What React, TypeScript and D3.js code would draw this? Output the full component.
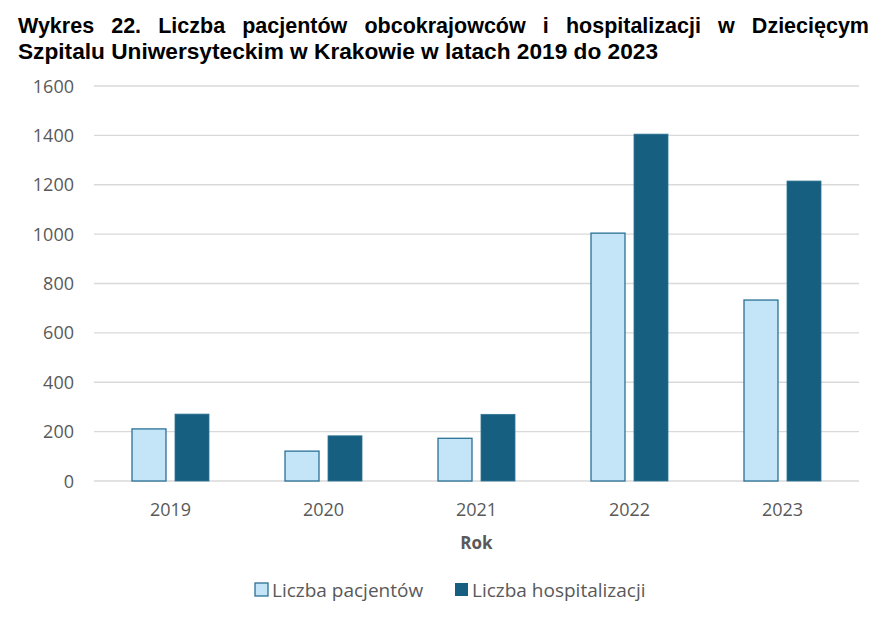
import React, { useEffect, useRef } from "react";
import * as d3 from "d3";

const years = ["2019", "2020", "2021", "2022", "2023"];
const patients = [211, 121, 173, 1004, 733];
const hospitalizations = [271, 183, 270, 1405, 1215];
const yTicks = [0, 200, 400, 600, 800, 1000, 1200, 1400, 1600];
const seriesNames = ["Liczba pacjentów", "Liczba hospitalizacji"];
const titleLine1 = "Wykres 22. Liczba pacjentów obcokrajowców i hospitalizacji w Dziecięcym";
const titleLine2 = "Szpitalu Uniwersyteckim w Krakowie w latach 2019 do 2023";

const W = 883, H = 622;
const M = { left: 94, right: 24, top: 86, bottom: 141 };
const LIGHT = "#c4e5f7", LIGHT_STROKE = "#2a7196", DARK = "#165f80";
const FONT = "'Open Sans', sans-serif";

export default function App() {
  const ref = useRef<SVGSVGElement>(null);
  useEffect(() => {
    const svg = d3.select(ref.current);
    svg.selectAll("*").remove();
    const x = d3.scaleBand().domain(years).range([M.left, W - M.right]).paddingInner(0).paddingOuter(0);
    const y = d3.scaleLinear().domain([0, 1600]).range([H - M.bottom, M.top]);
    const barW = 34, gap = 9;

    // title, justified line 1
    const tfont = "bold 21.5px 'Liberation Sans', Arial, sans-serif";
    const words = titleLine1.split(" ");
    const tg = svg.append("g");
    const nodes = words.map((w) =>
      tg.append("text").attr("y", 33).style("font", tfont).attr("fill", "#000").text(w)
    );
    const widths = nodes.map((n) => (n.node() as SVGTextElement).getComputedTextLength());
    const left = 18, right = 869;
    const total = d3.sum(widths);
    const sp = (right - left - total) / (words.length - 1);
    let cx = left;
    nodes.forEach((n, i) => { n.attr("x", cx); cx += widths[i] + sp; });
    svg.append("text").attr("x", left).attr("y", 59).style("font", tfont).attr("fill", "#000")
      .attr("textLength", 640).attr("lengthAdjust", "spacingAndGlyphs").text(titleLine2);

    // grid
    svg.append("g").selectAll("line").data(yTicks).join("line")
      .attr("x1", M.left).attr("x2", W - M.right)
      .attr("y1", (d) => y(d)).attr("y2", (d) => y(d))
      .attr("stroke", "#d9d9d9").attr("stroke-width", 1.3);

    svg.append("g").selectAll("text").data(yTicks).join("text")
      .attr("x", 74).attr("y", (d) => y(d) + 6.5)
      .attr("text-anchor", "end").attr("fill", "#595959")
      .style("font", `18px ${FONT}`).text((d) => d);

    const g = svg.append("g");
    years.forEach((yr, i) => {
      const c = x(yr)! + x.bandwidth() / 2;
      g.append("rect").attr("x", c - gap / 2 - barW).attr("y", y(patients[i]))
        .attr("width", barW).attr("height", y(0) - y(patients[i]))
        .attr("fill", LIGHT).attr("stroke", LIGHT_STROKE).attr("stroke-width", 1.3);
      g.append("rect").attr("x", c + gap / 2).attr("y", y(hospitalizations[i]))
        .attr("width", barW).attr("height", y(0) - y(hospitalizations[i]))
        .attr("fill", DARK).attr("stroke", "#2f7494").attr("stroke-width", 0.8);
      g.append("text").attr("x", c).attr("y", 516).attr("text-anchor", "middle")
        .attr("fill", "#595959").style("font", `18px ${FONT}`).text(yr);
    });

    svg.append("text").attr("x", x.range()[0] + (x.range()[1] - x.range()[0]) / 2).attr("y", 549)
      .attr("text-anchor", "middle").attr("fill", "#595959")
      .style("font", `bold 17px ${FONT}`).text("Rok");

    // legend
    const lg = svg.append("g");
    lg.append("rect").attr("x", 255).attr("y", 583).attr("width", 13).attr("height", 13)
      .attr("fill", LIGHT).attr("stroke", LIGHT_STROKE).attr("stroke-width", 1.3);
    lg.append("text").attr("x", 272).attr("y", 597).attr("fill", "#595959")
      .style("font", `19px ${FONT}`).text(seriesNames[0]);
    lg.append("rect").attr("x", 455).attr("y", 583).attr("width", 13).attr("height", 13)
      .attr("fill", DARK);
    lg.append("text").attr("x", 472).attr("y", 597).attr("fill", "#595959")
      .style("font", `19px ${FONT}`).text(seriesNames[1]);
  }, []);
  return (
    <svg ref={ref} width={W} height={H} style={{ display: "block", position: "absolute", left: 0, top: 0, background: "#fff" }} />
  );
}
